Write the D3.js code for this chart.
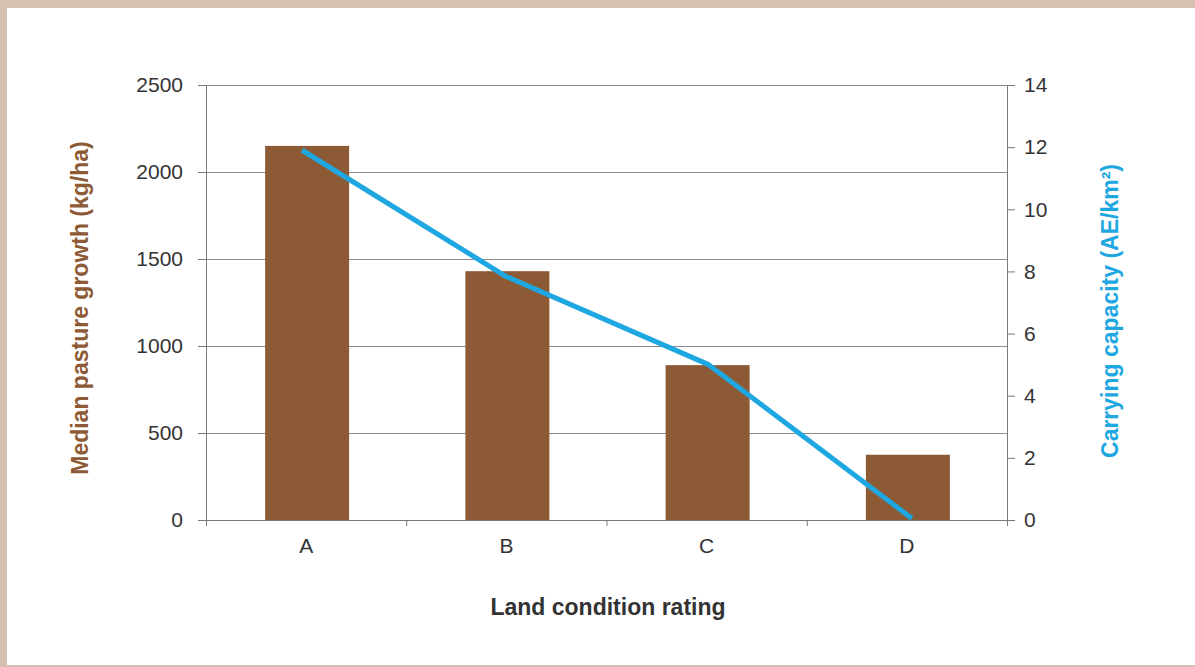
<!DOCTYPE html>
<html>
<head>
<meta charset="utf-8">
<script src="https://cdn.jsdelivr.net/npm/d3@7"></script>
<style>
  body { margin: 0; background: #fff; }
  svg { display: block; font-family: Arial, "Liberation Sans", sans-serif; }
</style>
</head>
<body>
<svg id="chart" width="1195" height="667"></svg>
<script>
var categories = ["A", "B", "C", "D"];
var growth = [2150, 1430, 890, 375];        // kg/ha, bars
var capacity = [11.9, 7.85, 5.0, 0.05];     // AE/km2, line
var leftTicks = [0, 500, 1000, 1500, 2000, 2500];
var rightTicks = [0, 2, 4, 6, 8, 10, 12, 14];

var svg = d3.select("#chart"),
    margin = {top: 85, right: 188, bottom: 147, left: 206},
    width = +svg.attr("width") - margin.left - margin.right,
    height = +svg.attr("height") - margin.top - margin.bottom;

// beige frame
svg.append("rect").attr("x", 0).attr("y", 0).attr("width", 1195).attr("height", 667).attr("fill", "#d5c2b2");
svg.append("rect").attr("x", 7).attr("y", 8).attr("width", 1188).attr("height", 657).attr("fill", "#ffffff");

var g = svg.append("g").attr("transform", "translate(" + margin.left + "," + margin.top + ")");

var x = d3.scaleBand().domain(categories).range([0, width]).paddingInner(0).paddingOuter(0);
var yL = d3.scaleLinear().domain([0, 2500]).range([height, 0]);
var yR = d3.scaleLinear().domain([0, 14]).range([height, 0]);

// gridlines
g.append("g").selectAll("line")
  .data(leftTicks.slice(1))
  .enter().append("line")
    .attr("x1", 0).attr("x2", width)
    .attr("y1", function(d) { return yL(d) + 0.5; })
    .attr("y2", function(d) { return yL(d) + 0.5; })
    .attr("stroke", "#8c8c8c").attr("stroke-width", 1);

// bars
var barW = 84;
g.selectAll(".bar")
  .data(categories)
  .enter().append("rect")
    .attr("class", "bar")
    .attr("x", function(d) { return x(d) + x.bandwidth() / 2 - barW / 2 + 1; })
    .attr("y", function(d, i) { return yL(growth[i]); })
    .attr("width", barW)
    .attr("height", function(d, i) { return height - yL(growth[i]); })
    .attr("fill", "#8c5a35");

// axes
var axisColor = "#7a7a7a";
var left = g.append("g")
    .call(d3.axisLeft(yL).tickValues(leftTicks).tickSize(8).tickPadding(15).tickFormat(d3.format("d")));
var right = g.append("g").attr("transform", "translate(" + width + ",0)")
    .call(d3.axisRight(yR).tickValues(rightTicks).tickSize(8).tickPadding(9).tickFormat(d3.format("d")));
var bottom = g.append("g").attr("transform", "translate(0," + height + ")")
    .call(d3.axisBottom(x).tickSize(0).tickPadding(18));

// category boundary ticks on x axis
g.append("g").attr("transform", "translate(0," + height + ")")
  .selectAll("line")
  .data(d3.range(categories.length + 1))
  .enter().append("line")
    .attr("x1", function(i) { return i * x.step() + 0.5; })
    .attr("x2", function(i) { return i * x.step() + 0.5; })
    .attr("y1", 0).attr("y2", 6)
    .attr("stroke", axisColor);

[left, right, bottom].forEach(function(a) {
  a.select(".domain").attr("stroke", axisColor);
  a.selectAll(".tick line").attr("stroke", axisColor);
  a.selectAll("text").attr("fill", "#333").style("font-size", "21px");
});

// capacity line
var line = d3.line()
    .x(function(d, i) { return x(categories[i]) + x.bandwidth() / 2 - 4 + i * 3; })
    .y(function(d) { return yR(d); });

g.append("path")
  .datum(capacity)
  .attr("d", line)
  .attr("fill", "none")
  .attr("stroke", "#1ea7e1")
  .attr("stroke-width", 5)
  .attr("stroke-linejoin", "round");

// axis titles
svg.append("text")
  .attr("transform", "translate(88,308) rotate(-90)")
  .attr("text-anchor", "middle")
  .attr("fill", "#8c5a35")
  .style("font-size", "23px").style("font-weight", "bold")
  .text("Median pasture growth (kg/ha)");

svg.append("text")
  .attr("transform", "translate(1118,311) rotate(-90)")
  .attr("text-anchor", "middle")
  .attr("fill", "#1ea7e1")
  .style("font-size", "23px").style("font-weight", "bold")
  .text("Carrying capacity (AE/km²)");

svg.append("text")
  .attr("x", 608)
  .attr("y", 615)
  .attr("text-anchor", "middle")
  .attr("fill", "#333")
  .style("font-size", "23px").style("font-weight", "bold")
  .text("Land condition rating");
</script>
</body>
</html>
